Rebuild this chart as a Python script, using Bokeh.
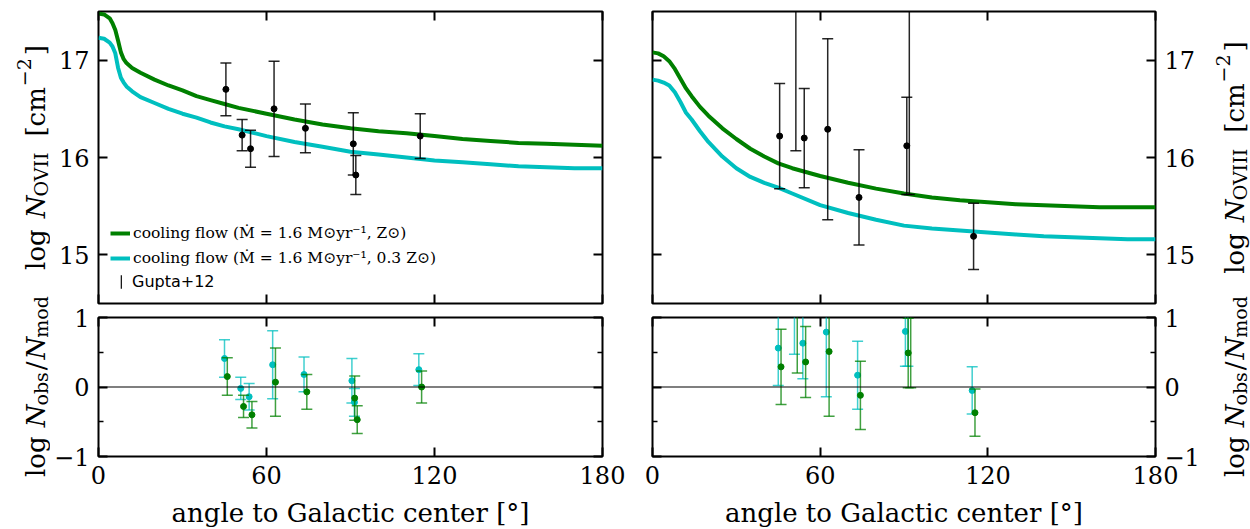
import numpy as np
from bokeh.plotting import figure
from bokeh.models import (Range1d, FixedTicker, LinearAxis, Legend, LegendItem, Span,
                          CustomJSTickFormatter)
from bokeh.layouts import column, row
from bokeh.embed import file_html
from bokeh.resources import INLINE
from bokeh.core.properties import value

# ---------------- data ----------------
angle_obs = [45.5, 51.3, 54.3, 62.7, 73.9, 91.0, 91.9, 114.9]
ovii_obs = [16.70, 16.23, 16.09, 16.50, 16.30, 16.14, 15.82, 16.22]
ovii_err = [0.27, 0.16, 0.19, 0.49, 0.25, 0.32, 0.20, 0.23]
oviii_obs = [16.22, 17.57, 16.20, 16.29, 15.59, 16.12, 17.62, 15.19]
oviii_err = [0.54, 1.50, 0.51, 0.93, 0.49, 0.50, 2.00, 0.34]

ovii_model_angle = [0, 2, 4, 5, 6, 7, 8, 9, 10, 12, 15, 20, 25, 30, 35, 40, 45, 50,
                    60, 70, 80, 90, 100, 110, 120, 130, 140, 150, 160, 170, 180]
ovii_model_solar = [17.48, 17.47, 17.43, 17.38, 17.31, 17.20, 17.08, 17.01, 16.97, 16.92,
                    16.87, 16.80, 16.74, 16.69, 16.63, 16.59, 16.55, 16.51, 16.45, 16.39,
                    16.34, 16.30, 16.27, 16.25, 16.22, 16.19, 16.17, 16.15, 16.14, 16.13, 16.12]
ovii_model_03 = [17.23, 17.22, 17.18, 17.14, 17.07, 16.92, 16.82, 16.77, 16.73, 16.68,
                 16.62, 16.56, 16.50, 16.45, 16.41, 16.36, 16.32, 16.29, 16.22, 16.16,
                 16.11, 16.06, 16.03, 16.00, 15.97, 15.95, 15.93, 15.91, 15.90, 15.89, 15.89]

oviii_model_angle = [0, 2, 4, 6, 8, 10, 12, 14, 17, 20, 25, 30, 35, 40, 45, 50,
                     60, 70, 80, 90, 100, 110, 120, 130, 140, 150, 160, 170, 180]
oviii_model_solar = [17.08, 17.07, 17.04, 16.99, 16.91, 16.81, 16.71, 16.63, 16.52, 16.43,
                     16.30, 16.19, 16.09, 16.01, 15.94, 15.89, 15.81, 15.74, 15.68, 15.63,
                     15.59, 15.56, 15.54, 15.52, 15.51, 15.50, 15.49, 15.49, 15.49]
oviii_model_03 = [16.80, 16.79, 16.77, 16.74, 16.67, 16.57, 16.46, 16.39, 16.27, 16.16,
                  16.01, 15.89, 15.80, 15.74, 15.69, 15.63, 15.51, 15.43, 15.36, 15.30,
                  15.27, 15.25, 15.23, 15.21, 15.19, 15.18, 15.17, 15.16, 15.16]

res_ovii_solar = [0.15, -0.28, -0.40, 0.07, -0.07, -0.16, -0.47, 0.00]
res_ovii_03 = [0.41, -0.02, -0.14, 0.32, 0.18, 0.09, -0.22, 0.25]
res_oviii_solar = [0.29, 1.70, 0.36, 0.51, -0.12, 0.49, 1.99, -0.37]
res_oviii_03 = [0.56, 1.97, 0.63, 0.79, 0.17, 0.80, 2.30, -0.05]

x_ticks = [0, 60, 120, 180]
top_y_ticks = [15, 16, 17]
res_y_ticks = [-1, 0, 1]
res_y_minor = [-0.5, 0.5]

label_solar = "cooling flow (Ṁ = 1.6 M⊙yr⁻¹, Z⊙)"
label_03 = "cooling flow (Ṁ = 1.6 M⊙yr⁻¹, 0.3 Z⊙)"
label_obs = "Gupta+12"
x_label = "angle to Galactic center [°]"

# ---------------- style ----------------
GREEN = "#008000"
CYAN = "#00BFBF"
SERIF = "DejaVu Serif"
SANS = "DejaVu Sans"
H_TOTAL = 529
LAB_W_L = 50
LAB_W_R = 48

EM = {"l": .320, "o": .602, "g": .640, "N": .838, "O": .787, "V": .722, "I": .402,
      "[": .390, "c": .560, "m": .948, "]": .390, "−": .838, "2": .636, "/": .337,
      "b": .640, "s": .513, "d": .640, " ": .318}


def tw(s, size):
    return sum(EM.get(ch, .6) for ch in s) * size


def base_fig(fw, fh, yr, bl, br, bt, bb):
    p = figure(frame_width=fw, frame_height=fh, x_range=Range1d(0, 180), y_range=Range1d(*yr),
               output_backend="svg", toolbar_location=None,
               x_axis_location=None, y_axis_location=None,
               min_border_left=bl, min_border_right=br, min_border_top=bt, min_border_bottom=bb)
    p.grid.visible = False
    p.outline_line_color = "black"
    p.outline_line_width = 2
    p.background_fill_color = "white"
    p.border_fill_color = "white"
    return p


def add_axis(p, side, ticks, minor=(), labels=False, overrides=None, axis_label=None):
    ax = LinearAxis(ticker=FixedTicker(ticks=list(ticks), minor_ticks=list(minor)))
    ax.axis_line_color = None
    ax.major_tick_in = 9
    ax.major_tick_out = 0
    ax.minor_tick_in = 5
    ax.minor_tick_out = 0
    ax.major_tick_line_width = 2
    ax.minor_tick_line_width = 1.5
    ax.major_tick_line_color = "black"
    ax.minor_tick_line_color = "black"
    if labels:
        ax.major_label_text_font = SERIF
        ax.major_label_text_font_size = "24px"
        ax.major_label_text_color = "black"
        ax.major_label_standoff = 9
    else:
        ax.formatter = CustomJSTickFormatter(code="return ''")
        ax.major_label_text_font_size = "1px"
        ax.major_label_text_color = None
        ax.major_label_standoff = 0
    if overrides:
        ax.major_label_overrides = overrides
    if axis_label:
        ax.axis_label = axis_label
        ax.axis_label_text_font = SERIF
        ax.axis_label_text_font_size = "26px"
        ax.axis_label_text_font_style = "normal"
        ax.axis_label_text_color = "black"
        ax.axis_label_standoff = 11
    p.add_layout(ax, side)
    return ax


def label_fig(width):
    p = figure(width=width, height=H_TOTAL, x_range=Range1d(0, width),
               y_range=Range1d(H_TOTAL, 0), output_backend="svg", toolbar_location=None,
               x_axis_location=None, y_axis_location=None,
               min_border_left=0, min_border_right=0, min_border_top=0, min_border_bottom=0)
    p.grid.visible = False
    p.outline_line_color = None
    p.background_fill_color = "white"
    p.border_fill_color = "white"
    return p


def rot_label(p, x_base, y_center, pieces):
    # pieces: (text, size, style, shift) ; text None => gap of `size` px
    widths = [(s if t is None else tw(t, s)) for t, s, st, sh in pieces]
    pos = y_center + sum(widths) / 2
    for (t, s, st, sh), w in zip(pieces, widths):
        if t is not None:
            p.text(x=[x_base + sh], y=[pos], text=[t], angle=np.pi / 2,
                   text_align="left", text_baseline="alphabetic",
                   text_font=value(SERIF), text_font_size=value(f"{s}px"),
                   text_font_style=st, text_color="black")
        pos -= w


def col_pieces(ion):
    return [("log", 26, "normal", 0), (None, 11, "", 0), ("N", 26, "italic", 0),
            (ion, 19, "normal", 5), (None, 16, "", 0), ("[cm", 26, "normal", 0),
            (None, 1, "", 0), ("−2", 19, "normal", -12), (None, 3, "", 0),
            ("]", 26, "normal", 0)]


res_pieces = [("log", 26, "normal", 0), (None, 9, "", 0), ("N", 26, "italic", 0),
              ("obs", 19, "normal", 5), (None, 2, "", 0), ("/", 26, "normal", 0),
              (None, 2, "", 0), ("N", 26, "italic", 0), ("mod", 19, "normal", 5)]


def draw_obs(p, x, y, e, color, alpha, dot_size=6):
    lo = [a - b for a, b in zip(y, e)]
    hi = [a + b for a, b in zip(y, e)]
    p.segment(x0=x, y0=lo, x1=x, y1=hi, line_color=color, line_width=1.5, line_alpha=alpha)
    p.scatter(x=list(x) + list(x), y=hi + lo, marker="dash", size=11, line_color=color,
              line_width=1.5, line_alpha=alpha)
    return p.scatter(x=x, y=y, marker="circle", size=dot_size, fill_color=color,
                     line_color=color)


# ---------------- top panels ----------------
tl = base_fig(504, 292, (14.5, 17.5), 98 - LAB_W_L, 25, 11, 2)
tr = base_fig(503, 292, (14.5, 17.5), 25, 95 - LAB_W_R, 11, 2)
for p, lab_side, tick_side in ((tl, "left", "right"), (tr, "right", "left")):
    add_axis(p, lab_side, top_y_ticks, labels=True)
    add_axis(p, tick_side, top_y_ticks)
    add_axis(p, "above", x_ticks)
    add_axis(p, "below", x_ticks)

g1 = tl.line(ovii_model_angle, ovii_model_solar, line_width=4, line_color=GREEN)
c1 = tl.line(ovii_model_angle, ovii_model_03, line_width=4, line_color=CYAN)
draw_obs(tl, angle_obs, ovii_obs, ovii_err, "black", 0.85)

tr.line(oviii_model_angle, oviii_model_solar, line_width=4, line_color=GREEN)
tr.line(oviii_model_angle, oviii_model_03, line_width=4, line_color=CYAN)
draw_obs(tr, angle_obs, oviii_obs, oviii_err, "black", 0.85)

# zero-size marks at the observations: only their legend swatch is visible
obs_swatch = tl.rect(x=angle_obs, y=ovii_obs, width=0, height=0, fill_color="black",
                     fill_alpha=0.9, line_color=None)

leg1 = Legend(items=[LegendItem(label=label_solar, renderers=[g1]),
                     LegendItem(label=label_03, renderers=[c1])],
              location=(12, 33), glyph_width=20, glyph_height=24, label_height=24,
              label_standoff=3, spacing=1, padding=0, margin=0, border_line_color=None,
              background_fill_alpha=0, label_text_font=SERIF, label_text_font_size="15.5px",
              label_text_color="black")
leg2 = Legend(items=[LegendItem(label=label_obs, renderers=[obs_swatch])],
              location=(22, 12), glyph_width=2, glyph_height=17, label_height=20,
              label_standoff=10, spacing=0, padding=0, margin=0, border_line_color=None,
              background_fill_alpha=0, label_text_font=SANS, label_text_font_size="16px",
              label_text_color="black")
tl.add_layout(leg1)
tl.add_layout(leg2)

# ---------------- residual panels ----------------
bl = base_fig(504, 139, (-1, 1), 98 - LAB_W_L, 25, 12, 73)
br = base_fig(503, 139, (-1, 1), 25, 95 - LAB_W_R, 12, 73)
for p, lab_side, tick_side in ((bl, "left", "right"), (br, "right", "left")):
    add_axis(p, lab_side, res_y_ticks, res_y_minor, labels=True, overrides={-1: "−1"})
    add_axis(p, tick_side, res_y_ticks, res_y_minor)
    add_axis(p, "above", x_ticks)
    add_axis(p, "below", x_ticks, labels=True, axis_label=x_label)
    p.add_layout(Span(location=0, dimension="width", line_color="black", line_width=1.2))

x_c = [a - 0.5 for a in angle_obs]
x_g = [a + 0.5 for a in angle_obs]
draw_obs(bl, x_c, res_ovii_03, ovii_err, CYAN, 0.75)
draw_obs(bl, x_g, res_ovii_solar, ovii_err, GREEN, 0.75)
draw_obs(br, x_c, res_oviii_03, oviii_err, CYAN, 0.75)
draw_obs(br, x_g, res_oviii_solar, oviii_err, GREEN, 0.75)

# ---------------- y-axis titles ----------------
lab_l = label_fig(LAB_W_L)
lab_r = label_fig(LAB_W_R)
rot_label(lab_l, 35, 157, col_pieces("OVII"))
rot_label(lab_l, 35, 386, res_pieces)
rot_label(lab_r, 32, 157, col_pieces("OVIII"))
rot_label(lab_r, 32, 386, res_pieces)

layout = row(lab_l, column(row(tl, tr), row(bl, br)), lab_r)
open("out.html", "w").write(file_html(layout, INLINE))
